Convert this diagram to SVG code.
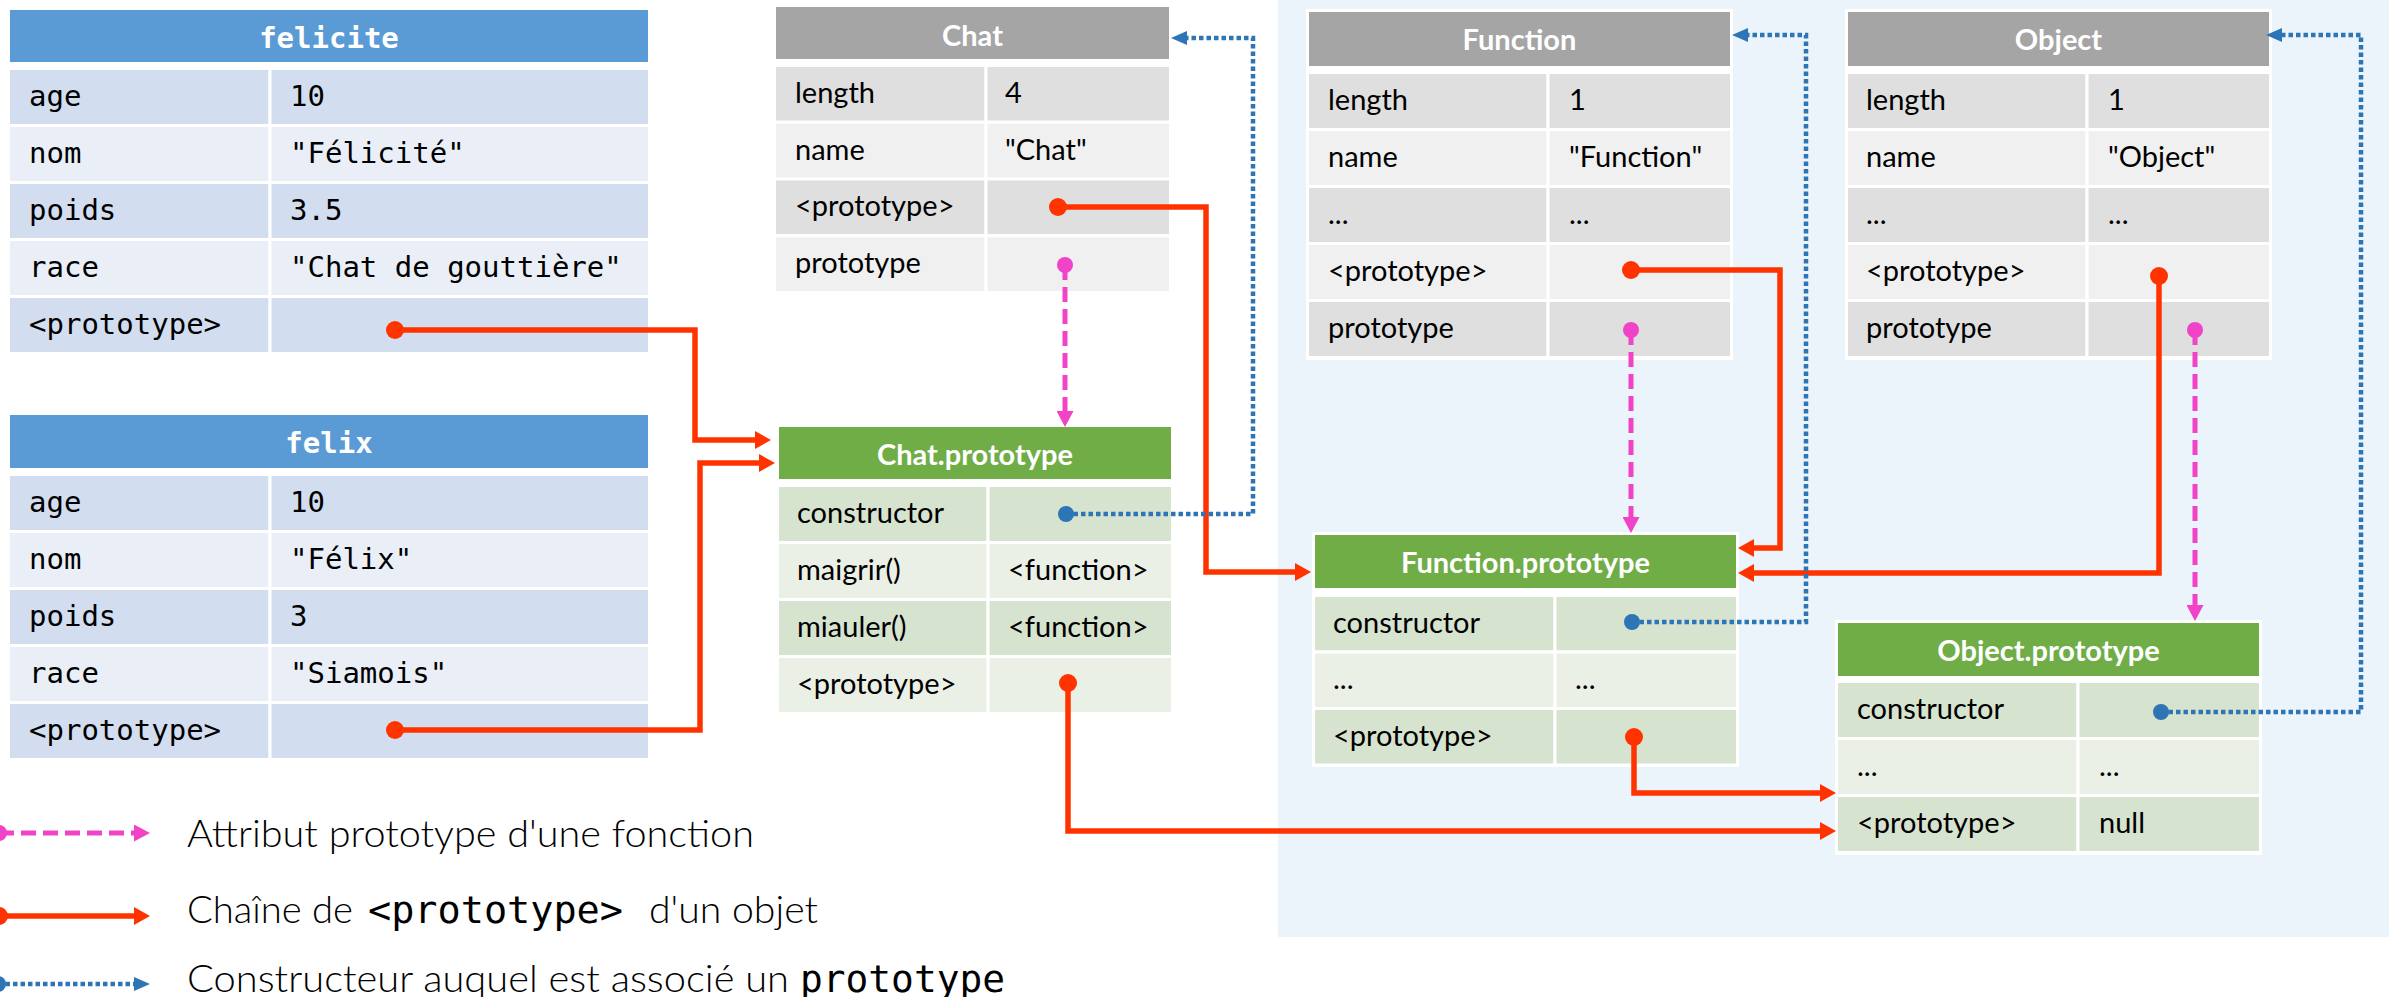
<svg xmlns="http://www.w3.org/2000/svg" width="2389" height="997" viewBox="0 0 2389 997">
<style>
.sans{font-family:Lato,"Liberation Sans",sans-serif;font-size:29px;fill:#000}
.mono{font-family:"DejaVu Sans Mono","Liberation Mono",monospace;font-size:29px;fill:#000}
.hd{font-weight:bold;fill:#fff;text-anchor:middle}
.c{stroke:#fff;stroke-width:3}
.bd{fill:#D2DEEF}.bl{fill:#EAEFF7}
.gd{fill:#DFDFDF}.gl{fill:#F0F0F0}
.nd{fill:#D6E3CE}.nl{fill:#EAF0E6}
.hblue{fill:#5B9BD5}.hgray{fill:#A5A5A5}.hgreen{fill:#70AD47}
.red{fill:none;stroke:#FF3300;stroke-width:5.5}
.pink{fill:none;stroke:#F043C8;stroke-width:5;stroke-dasharray:15 7}
.blue{fill:none;stroke:#2E75B6;stroke-width:4.5;stroke-dasharray:4.5 3}
.leg{font-family:Lato,"Liberation Sans",sans-serif;font-weight:300;font-size:37px;fill:#000}
.legm{font-family:"DejaVu Sans Mono","Liberation Mono",monospace;font-size:38px;fill:#000}
</style>
<defs>
<marker id="ra" markerUnits="userSpaceOnUse" viewBox="0 0 16 18" markerWidth="16" markerHeight="18" refX="8" refY="9" orient="auto"><path d="M0,0 L16,9 L0,18 z" fill="#FF3300"/></marker>
<marker id="rd" markerUnits="userSpaceOnUse" viewBox="0 0 18 18" markerWidth="18" markerHeight="18" refX="9" refY="9"><circle cx="9" cy="9" r="9" fill="#FF3300"/></marker>
<marker id="pa" markerUnits="userSpaceOnUse" viewBox="0 0 16 17" markerWidth="16" markerHeight="17" refX="8" refY="8.5" orient="auto"><path d="M0,0 L16,8.5 L0,17 z" fill="#F043C8"/></marker>
<marker id="pd" markerUnits="userSpaceOnUse" viewBox="0 0 16 16" markerWidth="16" markerHeight="16" refX="8" refY="8"><circle cx="8" cy="8" r="8" fill="#F043C8"/></marker>
<marker id="ba" markerUnits="userSpaceOnUse" viewBox="0 0 16 14" markerWidth="16" markerHeight="14" refX="8" refY="7" orient="auto"><path d="M0,0 L16,7 L0,14 z" fill="#2E75B6"/></marker>
<marker id="bdot" markerUnits="userSpaceOnUse" viewBox="0 0 16 16" markerWidth="16" markerHeight="16" refX="8" refY="8"><circle cx="8" cy="8" r="8" fill="#2E75B6"/></marker>
</defs>
<rect x="0" y="0" width="2389" height="997" fill="#fff"/>
<rect id="builtins-area" x="1278" y="0" width="1111" height="937" fill="#EBF3FB"/>

<g id="felicite">
<rect class="hblue" x="10" y="10" width="638" height="52"/>
<text class="mono hd" x="329" y="48">felicite</text>
<rect class="c bd" x="8.5" y="68.5" width="261.5" height="57"/><rect class="c bd" x="270" y="68.5" width="379.5" height="57"/>
<rect class="c bl" x="8.5" y="125.5" width="261.5" height="57"/><rect class="c bl" x="270" y="125.5" width="379.5" height="57"/>
<rect class="c bd" x="8.5" y="182.5" width="261.5" height="57"/><rect class="c bd" x="270" y="182.5" width="379.5" height="57"/>
<rect class="c bl" x="8.5" y="239.5" width="261.5" height="57"/><rect class="c bl" x="270" y="239.5" width="379.5" height="57"/>
<rect class="c bd" x="8.5" y="296.5" width="261.5" height="57"/><rect class="c bd" x="270" y="296.5" width="379.5" height="57"/>
<text class="mono" x="29" y="106">age</text><text class="mono" x="290" y="106">10</text>
<text class="mono" x="29" y="163">nom</text><text class="mono" x="290" y="163">"Félicité"</text>
<text class="mono" x="29" y="220">poids</text><text class="mono" x="290" y="220">3.5</text>
<text class="mono" x="29" y="277">race</text><text class="mono" x="290" y="277">"Chat de gouttière"</text>
<text class="mono" x="29" y="334">&lt;prototype&gt;</text>
</g>

<g id="felix">
<rect class="hblue" x="10" y="415" width="638" height="53"/>
<text class="mono hd" x="329" y="453">felix</text>
<rect class="c bd" x="8.5" y="474.5" width="261.5" height="57"/><rect class="c bd" x="270" y="474.5" width="379.5" height="57"/>
<rect class="c bl" x="8.5" y="531.5" width="261.5" height="57"/><rect class="c bl" x="270" y="531.5" width="379.5" height="57"/>
<rect class="c bd" x="8.5" y="588.5" width="261.5" height="57"/><rect class="c bd" x="270" y="588.5" width="379.5" height="57"/>
<rect class="c bl" x="8.5" y="645.5" width="261.5" height="57"/><rect class="c bl" x="270" y="645.5" width="379.5" height="57"/>
<rect class="c bd" x="8.5" y="702.5" width="261.5" height="57"/><rect class="c bd" x="270" y="702.5" width="379.5" height="57"/>
<text class="mono" x="29" y="512">age</text><text class="mono" x="290" y="512">10</text>
<text class="mono" x="29" y="569">nom</text><text class="mono" x="290" y="569">"Félix"</text>
<text class="mono" x="29" y="626">poids</text><text class="mono" x="290" y="626">3</text>
<text class="mono" x="29" y="683">race</text><text class="mono" x="290" y="683">"Siamois"</text>
<text class="mono" x="29" y="740">&lt;prototype&gt;</text>
</g>

<g id="Chat">
<rect class="hgray" x="776" y="7" width="393" height="52"/>
<text class="sans hd" x="972.5" y="46">Chat</text>
<rect class="c gd" x="774.5" y="65.5" width="211.5" height="56.75"/><rect class="c gd" x="986" y="65.5" width="184.5" height="56.75"/>
<rect class="c gl" x="774.5" y="122.25" width="211.5" height="56.75"/><rect class="c gl" x="986" y="122.25" width="184.5" height="56.75"/>
<rect class="c gd" x="774.5" y="179" width="211.5" height="56.75"/><rect class="c gd" x="986" y="179" width="184.5" height="56.75"/>
<rect class="c gl" x="774.5" y="235.75" width="211.5" height="56.75"/><rect class="c gl" x="986" y="235.75" width="184.5" height="56.75"/>
<text class="sans" x="795" y="103">length</text><text class="sans" x="1005" y="103">4</text>
<text class="sans" x="795" y="160">name</text><text class="sans" x="1005" y="160">"Chat"</text>
<text class="sans" x="795" y="216">&lt;prototype&gt;</text>
<text class="sans" x="795" y="273">prototype</text>
</g>

<g id="Chat.prototype">
<rect class="hgreen" x="779" y="427" width="392" height="52"/>
<text class="sans hd" x="975" y="465">Chat.prototype</text>
<rect class="c nd" x="777.5" y="485.5" width="210.5" height="57"/><rect class="c nd" x="988" y="485.5" width="184.5" height="57"/>
<rect class="c nl" x="777.5" y="542.5" width="210.5" height="57"/><rect class="c nl" x="988" y="542.5" width="184.5" height="57"/>
<rect class="c nd" x="777.5" y="599.5" width="210.5" height="57"/><rect class="c nd" x="988" y="599.5" width="184.5" height="57"/>
<rect class="c nl" x="777.5" y="656.5" width="210.5" height="57"/><rect class="c nl" x="988" y="656.5" width="184.5" height="57"/>
<text class="sans" x="797" y="523">constructor</text>
<text class="sans" x="797" y="580">maigrir()</text><text class="sans" x="1008" y="580">&lt;function&gt;</text>
<text class="sans" x="797" y="637">miauler()</text><text class="sans" x="1008" y="637">&lt;function&gt;</text>
<text class="sans" x="797" y="694">&lt;prototype&gt;</text>
</g>

<g id="Function">
<rect x="1306" y="9" width="427" height="351" fill="#fff"/>
<rect class="hgray" x="1309" y="12" width="421" height="54"/>
<text class="sans hd" x="1519.5" y="50">Function</text>
<rect class="c gd" x="1307.5" y="72.5" width="240.5" height="57"/><rect class="c gd" x="1548" y="72.5" width="183.5" height="57"/>
<rect class="c gl" x="1307.5" y="129.5" width="240.5" height="57"/><rect class="c gl" x="1548" y="129.5" width="183.5" height="57"/>
<rect class="c gd" x="1307.5" y="186.5" width="240.5" height="57"/><rect class="c gd" x="1548" y="186.5" width="183.5" height="57"/>
<rect class="c gl" x="1307.5" y="243.5" width="240.5" height="57"/><rect class="c gl" x="1548" y="243.5" width="183.5" height="57"/>
<rect class="c gd" x="1307.5" y="300.5" width="240.5" height="57"/><rect class="c gd" x="1548" y="300.5" width="183.5" height="57"/>
<text class="sans" x="1328" y="110">length</text><text class="sans" x="1569" y="110">1</text>
<text class="sans" x="1328" y="167">name</text><text class="sans" x="1569" y="167">"Function"</text>
<text class="sans" x="1328" y="224">...</text><text class="sans" x="1569" y="224">...</text>
<text class="sans" x="1328" y="281">&lt;prototype&gt;</text>
<text class="sans" x="1328" y="338">prototype</text>
</g>

<g id="Object">
<rect x="1845" y="9" width="427" height="351" fill="#fff"/>
<rect class="hgray" x="1848" y="12" width="421" height="54"/>
<text class="sans hd" x="2058.5" y="50">Object</text>
<rect class="c gd" x="1846.5" y="72.5" width="240.5" height="57"/><rect class="c gd" x="2087" y="72.5" width="183.5" height="57"/>
<rect class="c gl" x="1846.5" y="129.5" width="240.5" height="57"/><rect class="c gl" x="2087" y="129.5" width="183.5" height="57"/>
<rect class="c gd" x="1846.5" y="186.5" width="240.5" height="57"/><rect class="c gd" x="2087" y="186.5" width="183.5" height="57"/>
<rect class="c gl" x="1846.5" y="243.5" width="240.5" height="57"/><rect class="c gl" x="2087" y="243.5" width="183.5" height="57"/>
<rect class="c gd" x="1846.5" y="300.5" width="240.5" height="57"/><rect class="c gd" x="2087" y="300.5" width="183.5" height="57"/>
<text class="sans" x="1866" y="110">length</text><text class="sans" x="2108" y="110">1</text>
<text class="sans" x="1866" y="167">name</text><text class="sans" x="2108" y="167">"Object"</text>
<text class="sans" x="1866" y="224">...</text><text class="sans" x="2108" y="224">...</text>
<text class="sans" x="1866" y="281">&lt;prototype&gt;</text>
<text class="sans" x="1866" y="338">prototype</text>
</g>

<g id="Function.prototype">
<rect x="1312" y="532" width="427" height="235" fill="#fff"/>
<rect class="hgreen" x="1315" y="535" width="421" height="53"/>
<text class="sans hd" x="1525.5" y="573">Function.prototype</text>
<rect class="c nd" x="1313.5" y="595.5" width="241.5" height="56.5"/><rect class="c nd" x="1555" y="595.5" width="182.5" height="56.5"/>
<rect class="c nl" x="1313.5" y="652" width="241.5" height="56.5"/><rect class="c nl" x="1555" y="652" width="182.5" height="56.5"/>
<rect class="c nd" x="1313.5" y="708.5" width="241.5" height="56.5"/><rect class="c nd" x="1555" y="708.5" width="182.5" height="56.5"/>
<text class="sans" x="1333" y="633">constructor</text>
<text class="sans" x="1333" y="689">...</text><text class="sans" x="1575" y="689">...</text>
<text class="sans" x="1333" y="746">&lt;prototype&gt;</text>
</g>

<g id="Object.prototype">
<rect x="1835" y="620" width="427" height="235" fill="#fff"/>
<rect class="hgreen" x="1838" y="623" width="421" height="53"/>
<text class="sans hd" x="2048.5" y="661">Object.prototype</text>
<rect class="c nd" x="1836.5" y="681.5" width="241.5" height="57"/><rect class="c nd" x="2078" y="681.5" width="182.5" height="57"/>
<rect class="c nl" x="1836.5" y="738.5" width="241.5" height="57"/><rect class="c nl" x="2078" y="738.5" width="182.5" height="57"/>
<rect class="c nd" x="1836.5" y="795.5" width="241.5" height="57"/><rect class="c nd" x="2078" y="795.5" width="182.5" height="57"/>
<text class="sans" x="1857" y="719">constructor</text>
<text class="sans" x="1857" y="776">...</text><text class="sans" x="2099" y="776">...</text>
<text class="sans" x="1857" y="833">&lt;prototype&gt;</text><text class="sans" x="2099" y="833">null</text>
</g>

<g id="connectors">
<path class="red" d="M395,330 H695 V440 H763" marker-start="url(#rd)" marker-end="url(#ra)"/>
<path class="red" d="M395,730 H700 V463 H767" marker-start="url(#rd)" marker-end="url(#ra)"/>
<path class="red" d="M1058,207 H1206 V572 H1303" marker-start="url(#rd)" marker-end="url(#ra)"/>
<path class="red" d="M1068,683 V831 H1828" marker-start="url(#rd)" marker-end="url(#ra)"/>
<path class="red" d="M1631,270 H1780 V548 H1746" marker-start="url(#rd)" marker-end="url(#ra)"/>
<path class="red" d="M1634,737 V793 H1828" marker-start="url(#rd)" marker-end="url(#ra)"/>
<path class="red" d="M2159,276 V573 H1746" marker-start="url(#rd)" marker-end="url(#ra)"/>
<path class="pink" d="M1065,265 V419" marker-start="url(#pd)" marker-end="url(#pa)"/>
<path class="pink" d="M1631,330 V525" marker-start="url(#pd)" marker-end="url(#pa)"/>
<path class="pink" d="M2195,330 V613" marker-start="url(#pd)" marker-end="url(#pa)"/>
<path class="blue" d="M1066,514 H1253 V38 H1179" marker-start="url(#bdot)" marker-end="url(#ba)"/>
<path class="blue" d="M1632,622 H1806 V35 H1740" marker-start="url(#bdot)" marker-end="url(#ba)"/>
<path class="blue" d="M2161,712 H2361 V35 H2274" marker-start="url(#bdot)" marker-end="url(#ba)"/>
</g>

<g id="legend">
<path class="pink" d="M-1,833 H142" marker-start="url(#pd)" marker-end="url(#pa)"/>
<path class="red" d="M-1,916 H142" marker-start="url(#rd)" marker-end="url(#ra)"/>
<path class="blue" d="M-2,984 H142" marker-start="url(#bdot)" marker-end="url(#ba)"/>
<text class="leg" x="187" y="847" textLength="567" lengthAdjust="spacingAndGlyphs">Attribut prototype d'une fonction</text>
<text class="leg" x="187" y="923" textLength="166" lengthAdjust="spacingAndGlyphs">Chaîne de</text>
<text class="legm" x="368" y="923" textLength="255" lengthAdjust="spacingAndGlyphs">&lt;prototype&gt;</text>
<text class="leg" x="649" y="923" textLength="169" lengthAdjust="spacingAndGlyphs">d'un objet</text>
<text class="leg" x="187" y="992" textLength="602" lengthAdjust="spacingAndGlyphs">Constructeur auquel est associé un</text>
<text class="legm" x="800" y="992" textLength="205" lengthAdjust="spacingAndGlyphs">prototype</text>
</g>
</svg>
